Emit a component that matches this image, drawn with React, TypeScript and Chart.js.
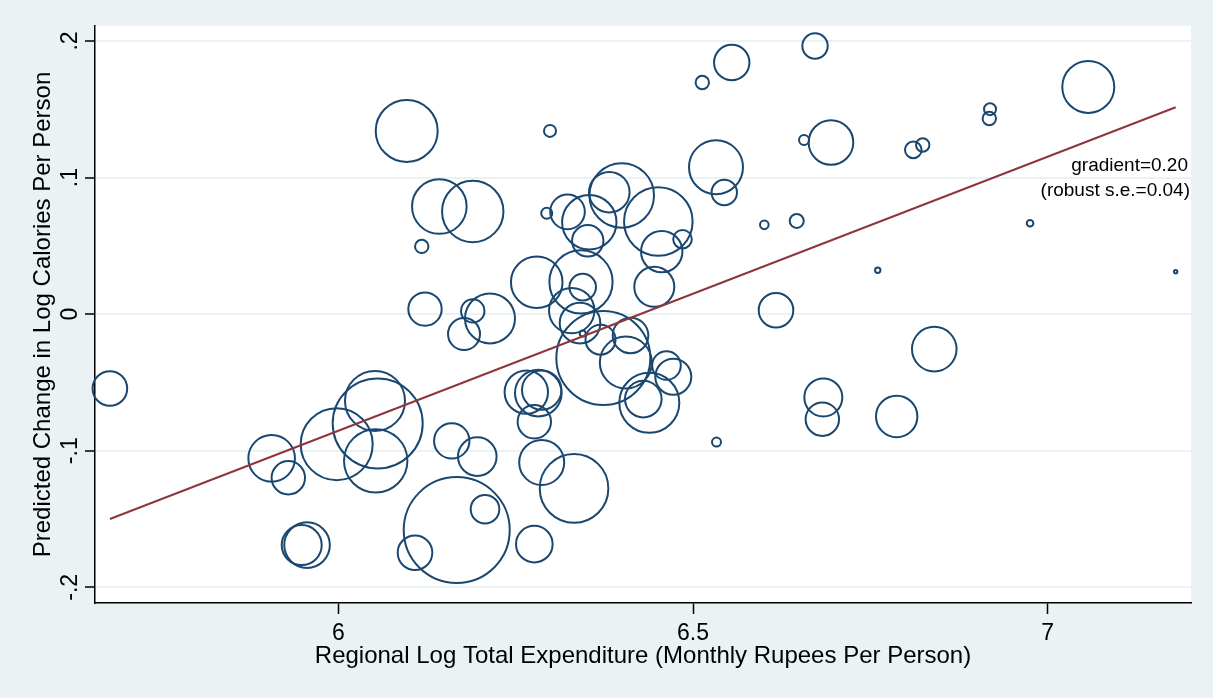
import React, { useEffect, useRef } from "react";
import { Chart, registerables } from "chart.js";

Chart.register(...registerables);

// ---- data ----
const xValues = [
  5.678, 5.906, 5.9295, 5.9484, 5.9559, 5.9977, 6.0517, 6.0555, 6.0527, 6.0964,
  6.1081, 6.1176, 6.1222, 6.1424, 6.1895, 6.1599, 6.1669, 6.1772, 6.1895, 6.2138,
  6.1959, 6.2068, 6.265, 6.2819, 6.2867, 6.2763, 6.2867, 6.2763, 6.3323, 6.2797,
  6.2984, 6.2938, 6.3231, 6.3538, 6.3516, 6.382, 6.3995, 6.4511, 6.4559, 6.4852,
  6.4454, 6.3421, 6.3445, 6.329, 6.3407, 6.3445, 6.3696, 6.3736, 6.4119, 6.4053,
  6.4626, 6.4722, 6.4299, 6.4384, 6.5131, 6.5546, 6.5324, 6.5441, 6.6005, 6.6462,
  6.617, 6.5331, 6.672, 6.6565, 6.6945, 6.6837, 6.6823, 6.7871, 6.7604, 6.8401,
  6.8105, 6.8238, 6.9187, 6.9177, 6.9751, 7.0572, 7.1804,
];
const yValues = [
  -0.0544, -0.1056, -0.1198, -0.1691, -0.1691, -0.0952, -0.0635, -0.08, -0.1074, 0.1342,
  -0.1747, 0.0496, 0.0037, 0.0788, 0.0752, -0.0928, -0.1581, -0.0146, 0.0024, -0.0031,
  -0.1043, -0.1428, -0.0571, -0.0578, -0.0556, -0.0788, -0.1086, -0.1684, -0.1276, 0.0234,
  0.1342, 0.0739, 0.0749, 0.0673, 0.0537, 0.0893, 0.0869, 0.0679, 0.0458, 0.0549,
  0.02, 0.0236, 0.0198, 0.0026, -0.0066, -0.0141, -0.0187, -0.0321, -0.0156, -0.0354,
  -0.0376, -0.0458, -0.0622, -0.0649, 0.1696, 0.1843, 0.1076, 0.0891, 0.0654, 0.0683,
  0.0029, -0.0937, 0.1964, 0.1276, 0.1257, -0.061, -0.0769, -0.0749, 0.0322, -0.0256,
  0.1203, 0.1239, 0.1501, 0.1433, 0.0666, 0.1664, 0.031,
];
// bubble size (population weight, as marker radius)
const sizes = [
  17.3, 23.3, 16.7, 20, 22.8, 36, 30, 45, 31.7, 31,
  17.3, 6.7, 16.7, 27.3, 30.7, 17.7, 53, 16, 11.7, 25,
  19.3, 14.3, 21.7, 23.3, 19.7, 16.7, 22.5, 18.3, 34.3, 25.8,
  6, 5.5, 17.3, 27.2, 15.7, 20.3, 32.3, 34.3, 20.7, 9.3,
  20, 31.6, 13.3, 22.7, 20.3, 3, 15, 47, 17.8, 26,
  14.3, 18, 18.3, 30, 6.7, 17.7, 27, 12.7, 4.3, 7,
  17.3, 4.5, 12.7, 5, 22.3, 19, 16.7, 20.7, 2.7, 22.3,
  8.3, 6.7, 6, 6.7, 3.3, 26, 1.7,
];

const xTicks = [6, 6.5, 7];
const xTickLabels = ["6", "6.5", "7"];
const yTicks = [-0.2, -0.1, 0, 0.1, 0.2];
const yTickLabels = ["-.2", "-.1", "0", ".1", ".2"];

const X_MIN = 5.657;
const X_MAX = 7.202;
const Y_MIN = -0.2115;
const Y_MAX = 0.211;

const FIT_SLOPE = 0.2007;
const FIT_INTERCEPT = -1.2896;
const NOTE_Y = 0.105;

const xTitle = "Regional Log Total Expenditure (Monthly Rupees Per Person)";
const yTitle = "Predicted Change in Log Calories Per Person";
const noteLines = ["gradient=0.20", "(robust s.e.=0.04)"];

// ---- styles ----
const BG = "#EAF2F3";
const GRID = "#EAF2F3";
const NAVY = "#1A476F";
const MAROON = "#90353B";
const FONT = '"Liberation Sans", Arial, Helvetica, sans-serif';

const decor = {
  id: "decor",
  beforeDraw(chart: any) {
    const { ctx, chartArea: a, width, height } = chart;
    ctx.save();
    ctx.fillStyle = BG;
    ctx.fillRect(0, 0, width, height);
    ctx.fillStyle = "#FFFFFF";
    ctx.fillRect(a.left, a.top, a.right - a.left, a.bottom - a.top);
    ctx.restore();
  },
  afterDraw(chart: any) {
    const { ctx, chartArea: a } = chart;
    const xs = chart.scales.x;
    const ys = chart.scales.y;
    ctx.save();
    ctx.fillStyle = "#000000";
    ctx.textBaseline = "alphabetic";
    ctx.textAlign = "center";
    ctx.font = `23px ${FONT}`;
    xTicks.forEach((v, i) => {
      ctx.fillText(xTickLabels[i], xs.getPixelForValue(v), a.bottom + 37);
    });
    yTicks.forEach((v, i) => {
      ctx.save();
      ctx.translate(a.left - 18, ys.getPixelForValue(v));
      ctx.rotate(-Math.PI / 2);
      ctx.fillText(yTickLabels[i], 0, 0);
      ctx.restore();
    });
    ctx.font = `24px ${FONT}`;
    ctx.fillText(xTitle, (a.left + a.right) / 2, a.bottom + 60);
    ctx.save();
    ctx.translate(a.left - 45, (a.top + a.bottom) / 2);
    ctx.rotate(-Math.PI / 2);
    ctx.fillText(yTitle, 0, 0);
    ctx.restore();

    ctx.font = `19px ${FONT}`;
    ctx.textAlign = "right";
    const ny = ys.getPixelForValue(NOTE_Y);
    ctx.fillText(noteLines[0], a.right - 3, ny);
    ctx.fillText(noteLines[1], a.right - 1, ny + 25);
    ctx.restore();
  },
};

export default function App() {
  const canvasRef = useRef<HTMLCanvasElement | null>(null);

  useEffect(() => {
    const canvas = canvasRef.current;
    if (!canvas) return;
    const bubbles = xValues.map((x, i) => ({ x, y: yValues[i], r: sizes[i] }));
    const fitXMin = Math.min(...xValues);
    const fitXMax = Math.max(...xValues);
    const fitLine = [fitXMin, fitXMax].map((x) => ({ x, y: FIT_INTERCEPT + FIT_SLOPE * x }));

    const chart = new Chart(canvas, {
      type: "bubble",
      data: {
        datasets: [
          {
            type: "line",
            data: fitLine,
            borderColor: MAROON,
            borderWidth: 2,
            pointRadius: 0,
            fill: false,
            order: 1,
            clip: false,
          } as any,
          {
            type: "bubble",
            data: bubbles,
            backgroundColor: "rgba(0,0,0,0)",
            borderColor: NAVY,
            borderWidth: 2,
            order: 2,
            clip: false,
          } as any,
        ],
      },
      options: {
        responsive: false,
        maintainAspectRatio: false,
        animation: false,
        events: [],
        layout: { autoPadding: false, padding: { left: 0, top: 26, right: 22, bottom: 0 } },
        plugins: { legend: { display: false }, tooltip: { enabled: false } },
        scales: {
          x: {
            type: "linear",
            min: X_MIN,
            max: X_MAX,
            afterBuildTicks: (s: any) => {
              s.ticks = xTicks.map((v) => ({ value: v }));
            },
            afterFit: (s: any) => {
              s.height = 95;
            },
            ticks: { display: false },
            grid: {
              drawOnChartArea: false,
              drawTicks: true,
              tickLength: 11,
              tickColor: "#000000",
              tickWidth: 1.5,
            },
            border: { color: "#000000", width: 1.5 },
          },
          y: {
            type: "linear",
            min: Y_MIN,
            max: Y_MAX,
            afterBuildTicks: (s: any) => {
              s.ticks = yTicks.map((v) => ({ value: v }));
            },
            afterFit: (s: any) => {
              s.width = 95;
            },
            ticks: { display: false },
            grid: {
              color: GRID,
              lineWidth: 2,
              drawTicks: true,
              tickLength: 10,
              tickColor: "#000000",
              tickWidth: 1.5,
            },
            border: { color: "#000000", width: 1.5 },
          },
        },
      } as any,
      plugins: [decor],
    });
    return () => chart.destroy();
  }, []);

  return (
    <div style={{ position: "absolute", left: 0, top: 0, width: 1213, height: 698 }}>
      <canvas ref={canvasRef} width={1213} height={698} />
    </div>
  );
}
